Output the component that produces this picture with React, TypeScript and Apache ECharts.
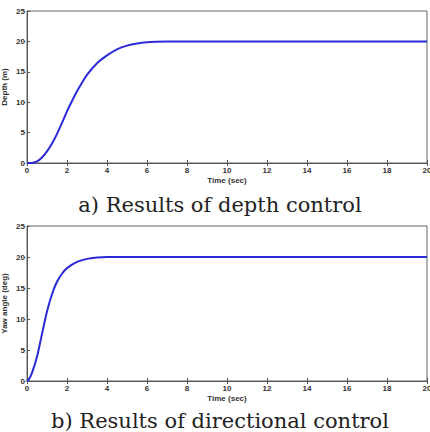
import React, { useEffect, useRef } from "react";
import * as echarts from "echarts";

const depthTime = [0, 0.25, 0.5, 0.75, 1, 1.25, 1.5, 1.75, 2, 2.25, 2.5, 2.75, 3, 3.5, 4, 4.5, 5, 5.5, 6, 6.5, 7, 8, 10, 20];
const depthValues = [0, 0.02, 0.25, 0.9, 1.9, 3.2, 4.8, 6.6, 8.5, 10.2, 11.8, 13.2, 14.5, 16.4, 17.7, 18.7, 19.3, 19.65, 19.85, 19.93, 19.97, 20, 20, 20];
const yawTime = [0, 0.1, 0.25, 0.5, 0.75, 1, 1.25, 1.5, 1.75, 2, 2.5, 3, 3.5, 4, 6, 20];
const yawValues = [0, 0.3, 1.3, 3.9, 7.6, 11.2, 14.0, 16.0, 17.3, 18.2, 19.2, 19.7, 19.92, 20, 20, 20];
const captionA = "a) Results of depth control";
const captionB = "b) Results of directional control";
const xName = "Time (sec)";
const depthName = "Depth (m)";
const yawName = "Yaw angle (deg)";

const zip = (a: number[], b: number[]) => a.map((v, i) => [v, b[i]]);

export default function App() {
  const ref = useRef<HTMLDivElement>(null);
  useEffect(() => {
    document.body.style.margin = "0";
    const chart = echarts.init(ref.current!, undefined, { renderer: "svg" });
    const labelStyle = { fontSize: 8, fontWeight: "bold" as const, color: "#333", fontFamily: "Liberation Sans" };
    const nameStyle = { fontSize: 8, fontWeight: "bold" as const, color: "#333", fontFamily: "Liberation Sans" };
    const axisLine = { show: true, lineStyle: { color: "#555", width: 1 } };
    const mkX = (gi: number, pos: "bottom" | "top", main: boolean) => ({
      type: "value",
      gridIndex: gi,
      position: pos,
      min: 0,
      max: 20,
      interval: 2,
      name: main ? xName : "",
      nameLocation: "middle",
      nameGap: 13,
      nameMoveOverlap: false,
      nameTextStyle: nameStyle,
      axisLine,
      axisTick: { show: true, inside: true, length: 3, lineStyle: { color: "#555" } },
      axisLabel: main ? { ...labelStyle, margin: 3 } : { show: false },
      splitLine: { show: false },
    });
    const mkY = (gi: number, pos: "left" | "right", name: string) => ({
      type: "value",
      gridIndex: gi,
      position: pos,
      min: 0,
      max: 25,
      interval: 5,
      name,
      nameLocation: "middle",
      nameGap: 19,
      nameMoveOverlap: false,
      nameTextStyle: nameStyle,
      axisLine,
      axisTick: { show: true, inside: true, length: 3, lineStyle: { color: pos === "left" ? "#555" : "#bbb" } },
      axisLabel: pos === "left" ? { ...labelStyle, margin: 2 } : { show: false },
      splitLine: { show: false },
    });
    const lineStyle = { color: "#2a2ad8", width: 2 };
    const gridBase = { show: true, borderColor: "#666", backgroundColor: "#fff", containLabel: false, outerBoundsMode: "none" };
    chart.setOption({
      animation: false,
      backgroundColor: "#fff",
      grid: [
        { ...gridBase, left: 27, top: 11, width: 400, height: 152 },
        { ...gridBase, left: 27, top: 226, width: 400, height: 155 },
      ],
      xAxis: [mkX(0, "bottom", true), mkX(0, "top", false), mkX(1, "bottom", true), mkX(1, "top", false)],
      yAxis: [mkY(0, "left", depthName), mkY(0, "right", ""), mkY(1, "left", yawName), mkY(1, "right", "")],
      series: [
        { type: "line", xAxisIndex: 0, yAxisIndex: 0, data: zip(depthTime, depthValues), smooth: 0.3, showSymbol: false, lineStyle },
        { type: "line", xAxisIndex: 2, yAxisIndex: 2, data: zip(yawTime, yawValues), smooth: 0.3, showSymbol: false, lineStyle },
      ],
      graphic: [
        { type: "text", x: 220, y: 205, style: { text: captionA, font: "21px 'DejaVu Serif'", fill: "#222", textAlign: "center", textVerticalAlign: "middle" } },
        { type: "text", x: 220, y: 421, style: { text: captionB, font: "21px 'DejaVu Serif'", fill: "#222", textAlign: "center", textVerticalAlign: "middle" } },
      ],
    });
    return () => chart.dispose();
  }, []);
  return <div ref={ref} style={{ width: 430, height: 432 }} />;
}
